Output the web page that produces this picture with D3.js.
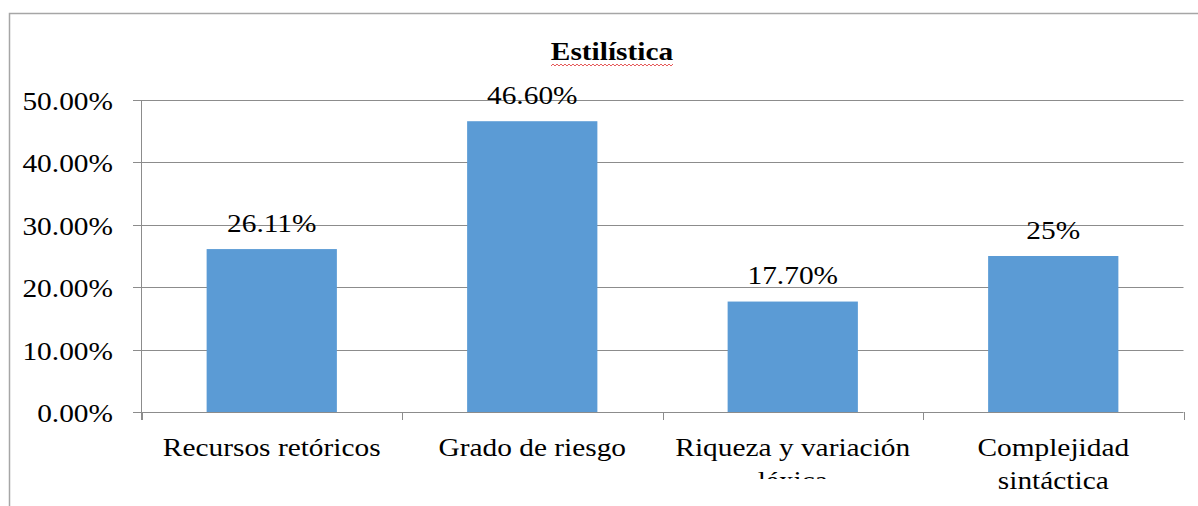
<!DOCTYPE html>
<html>
<head>
<meta charset="utf-8">
<script src="https://cdn.jsdelivr.net/npm/d3@7"></script>
<style>
  html, body { margin: 0; padding: 0; background: #fff; }
  svg { display: block; }
</style>
</head>
<body>
<svg id="chart" width="1198" height="506"></svg>
<script>
const title = "Estilística";
const categories = ["Recursos retóricos", "Grado de riesgo", "Riqueza y variación léxica", "Complejidad sintáctica"];
const categoryLines = [["Recursos retóricos"], ["Grado de riesgo"], ["Riqueza y variación", "léxica"], ["Complejidad", "sintáctica"]];
const values = [0.2611, 0.466, 0.177, 0.25];
const valueLabels = ["26.11%", "46.60%", "17.70%", "25%"];
const yTicks = [0, 0.1, 0.2, 0.3, 0.4, 0.5];

const svg = d3.select("#chart");
const W = 1198, H = 506;
const SX = 1.13; // horizontal text stretch of the original rendering
const FS = 26;
const FONT = "\"Liberation Serif\"";

// outer chart border (extends beyond the picture at right and bottom)
svg.append("rect")
  .attr("x", 9.5).attr("y", 13.5)
  .attr("width", 1300).attr("height", 600)
  .attr("fill", "none").attr("stroke", "#a6a6a6").attr("stroke-width", 1.5);

const x = d3.scaleBand().domain(categories).range([141.5, 1183.5])
  .paddingInner(0.5).paddingOuter(0.25);
const y = d3.scaleLinear().domain([0, 0.5]).range([412, 100]);

function stext(g, px, py, str, anchor, opts) {
  const t = g.append("text")
    .attr("transform", `translate(${px},${py}) scale(${SX},1)`)
    .attr("text-anchor", anchor)
    .style("font-family", FONT)
    .style("font-size", (opts && opts.size || FS) + "px")
    .style("fill", "#000")
    .text(str);
  if (opts && opts.bold) t.style("font-weight", "bold");
  return t;
}

// gridlines
svg.append("g").selectAll("line").data(yTicks.filter(d => d > 0)).join("line")
  .attr("x1", 141.5).attr("x2", 1183.5)
  .attr("y1", d => Math.round(y(d)) + 0.5).attr("y2", d => Math.round(y(d)) + 0.5)
  .attr("stroke", "#8c8c8c").attr("stroke-width", 1);

// bars
svg.append("g").selectAll("rect").data(values).join("rect")
  .attr("x", (d, i) => x(categories[i]))
  .attr("width", x.bandwidth())
  .attr("y", d => y(d))
  .attr("height", d => y(0) - y(d))
  .attr("fill", "#5b9bd5");

// y axis
const yAxisG = svg.append("g");
yAxisG.append("line").attr("x1", 141.5).attr("x2", 141.5).attr("y1", 100).attr("y2", 420)
  .attr("stroke", "#8c8c8c");
yAxisG.selectAll("line.tk").data(yTicks).join("line").attr("class", "tk")
  .attr("x1", 133).attr("x2", 141.5)
  .attr("y1", d => Math.round(y(d)) + 0.5).attr("y2", d => Math.round(y(d)) + 0.5)
  .attr("stroke", "#8c8c8c");
yTicks.forEach(d => {
  stext(yAxisG, 113, y(d) + 10, d3.format(".2%")(d), "end");
});

// x axis
const xAxisG = svg.append("g");
xAxisG.append("line").attr("x1", 141.5).attr("x2", 1183.5).attr("y1", 412.5).attr("y2", 412.5)
  .attr("stroke", "#8c8c8c");
const bounds = categories.map(c => x(c) - x.step() * x.paddingInner() / 2).concat([1183.5]);
xAxisG.selectAll("line.tk").data(bounds).join("line").attr("class", "tk")
  .attr("x1", d => Math.round(d) + 0.5).attr("x2", d => Math.round(d) + 0.5)
  .attr("y1", 412).attr("y2", 420)
  .attr("stroke", "#8c8c8c");

svg.append("defs").append("clipPath").attr("id", "lblclip")
  .append("rect").attr("x", 0).attr("y", 0).attr("width", W).attr("height", 479);

categoryLines.forEach((lines, i) => {
  const cx = x(categories[i]) + x.bandwidth() / 2;
  const g = xAxisG.append("g");
  lines.forEach((ln, j) => {
    stext(g, cx, 456 + j * 33, ln, "middle");
  });
  if (i === 2) g.attr("clip-path", "url(#lblclip)");
});

// data labels
const lblG = svg.append("g");
values.forEach((v, i) => {
  const cx = x(categories[i]) + x.bandwidth() / 2;
  stext(lblG, cx, y(v) - 17.5, valueLabels[i], "middle");
});

// title
const tG = svg.append("g");
stext(tG, 612, 60, title, "middle", { bold: true, size: 26 });
// spell-check squiggle under title
const sq = [];
for (let px = 551; px <= 673; px += 2) sq.push([px, (Math.round((px - 551) / 2) % 2) ? 64 : 66]);
tG.append("path").attr("d", d3.line()(sq)).attr("fill", "none")
  .attr("stroke", "#e03030").attr("stroke-width", 0.8);
</script>
</body>
</html>
